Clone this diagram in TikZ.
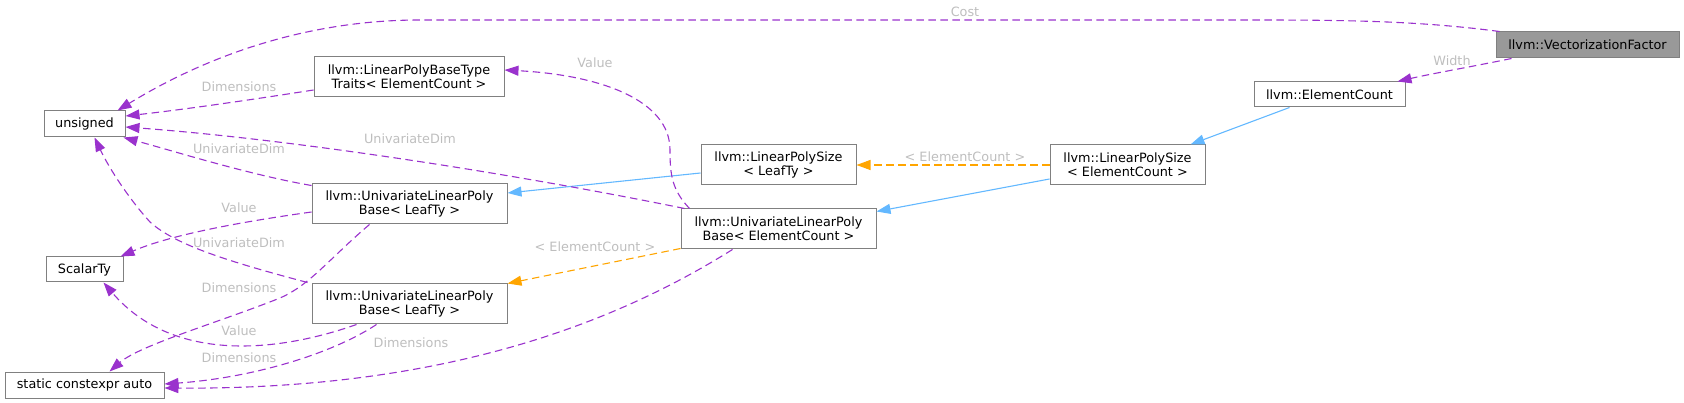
\documentclass[tikz,border=0pt]{standalone}
\usepackage{fontspec}
\setmainfont{DejaVu Sans}
\usetikzlibrary{arrows.meta,calc}
\definecolor{edgepurple}{HTML}{9A32CD}
\definecolor{edgeblue}{HTML}{63B8FF}
\definecolor{edgeorange}{HTML}{FFA500}
\definecolor{boxgray}{HTML}{808080}
\definecolor{lblgray}{HTML}{BEBEBE}
\definecolor{vffill}{HTML}{999999}
\tikzset{
  box/.style={draw=boxgray, fill=white, line width=1pt, inner sep=0pt, align=center,
    font=\fontsize{12.8}{14.3}\selectfont, text=black},
  lbl/.style={text=lblgray, inner sep=0pt, font=\fontsize{12.8}{14.3}\selectfont},
  tipstyle/.style={-{Triangle[length=14pt,width=10pt]}},
  purpleedge/.style={tipstyle, draw=edgepurple, line width=1.1pt, dash pattern=on 7.5pt off 4.5pt},
  orangeedge/.style={tipstyle, draw=edgeorange, line width=1.1pt, dash pattern=on 7.5pt off 4.5pt},
  blueedge/.style={tipstyle, draw=edgeblue, line width=1.1pt}
}
\begin{document}
\begin{tikzpicture}[x=1pt,y=-1pt]
\useasboundingbox (0,0) rectangle (1684,403);
% nodes
\node[box, minimum width=81pt, minimum height=26pt] (unsigned) at (84.5,124) {unsigned};
\node[box, minimum width=190pt, minimum height=40pt] (lpbtt) at (409,77) {llvm::LinearPolyBaseType\\Traits< ElementCount >};
\node[box, minimum width=195pt, minimum height=40pt] (ulpbup) at (409.5,204) {llvm::UnivariateLinearPoly\\Base< LeafTy >};
\node[box, minimum width=77pt, minimum height=25pt] (scalarty) at (84.5,269.5) {ScalarTy};
\node[box, minimum width=195pt, minimum height=40pt] (ulpblow) at (409.5,304) {llvm::UnivariateLinearPoly\\Base< LeafTy >};
\node[box, minimum width=159pt, minimum height=26pt] (static) at (84.5,385) {static constexpr auto};
\node[box, minimum width=155pt, minimum height=40pt] (lpsleaf) at (778.5,165) {llvm::LinearPolySize\\< LeafTy >};
\node[box, minimum width=155pt, minimum height=40pt] (lpsec) at (1127.5,165) {llvm::LinearPolySize\\< ElementCount >};
\node[box, minimum width=195pt, minimum height=40pt] (ulpbec) at (778.5,229) {llvm::UnivariateLinearPoly\\Base< ElementCount >};
\node[box, minimum width=151pt, minimum height=25pt] (ec) at (1329.5,94.5) {llvm::ElementCount};
\node[box, fill=vffill, minimum width=183pt, minimum height=26pt] (vf) at (1587.5,45) {llvm::VectorizationFactor};
% edges
\draw[purpleedge] ($(vf.north west)+(4,0)$) .. controls (1420,21) and (1350,20) .. (1250,20) -- (420,20) .. controls (300,20) and (200,60) .. ($(unsigned.north east)+(-8,0)$);
\node[lbl] (lcost) at (965,12) {Cost};
\draw[purpleedge] ($(vf.south west)+(16,0)$) .. controls (1470,67) and (1430,74) .. ($(ec.north east)+(-8,0)$);
\node[lbl] (lwidth) at (1452,61) {Width};
\draw[blueedge] ($(ec.south west)+(36,0)$) -- ($(lpsec.north east)+(-15,0)$);
\draw[orangeedge] (lpsec.west) -- (lpsleaf.east);
\node[lbl] (lec1) at (965,157) {< ElementCount >};
\draw[blueedge] ($(lpsec.west)+(0,14)$) -- ($(ulpbec.north east)+(0,3)$);
\draw[blueedge] ($(lpsleaf.west)+(0,8)$) -- ($(ulpbup.east)+(0,-11)$);
\draw[purpleedge] ($(ulpbec.north west)+(9,0)$) .. controls (672,190) and (670,175) .. (670,150) .. controls (670,100) and (600,75) .. ($(lpbtt.east)+(0,-7)$);
\node[lbl] (lvalue1) at (595,63) {Value};
\draw[purpleedge] ($(ulpbec.north west)+(4,0)$) .. controls (520,175) and (300,140) .. ($(unsigned.east)+(0,3)$);
\node[lbl] (luni1) at (410,139) {UnivariateDim};
\draw[purpleedge] ($(ulpbup.north west)+(0,2)$) .. controls (250,175) and (170,150) .. ($(unsigned.south east)+(-2,0)$);
\node[lbl] (luni2) at (239,149) {UnivariateDim};
\draw[purpleedge] ($(lpbtt.west)+(0,13)$) .. controls (250,100) and (180,110) .. ($(unsigned.east)+(0,-8)$);
\node[lbl] (ldim1) at (239,87) {Dimensions};
\draw[purpleedge] ($(ulpbup.west)+(0,8)$) .. controls (240,222) and (170,235) .. ($(scalarty.north east)+(-3,0)$);
\node[lbl] (lvalue2) at (239,208) {Value};
\draw[purpleedge] ($(ulpblow.north west)+(-4,-1)$) .. controls (230,262) and (175,245) .. (150,222) .. controls (130,200) and (110,170) .. ($(unsigned.south)+(10,0)$);
\node[lbl] (luni3) at (239,243) {UnivariateDim};
\draw[purpleedge] ($(ulpbup.south west)+(58,0)$) .. controls (330,258) and (310,285) .. (280,298) .. controls (220,322) and (140,345) .. ($(static.north)+(25,0)$);
\node[lbl] (ldim2) at (239,288) {Dimensions};
\draw[purpleedge] ($(ulpblow.south west)+(45,0)$) .. controls (270,355) and (170,360) .. ($(scalarty.south)+(19,0)$);
\node[lbl] (lvalue3) at (239,331) {Value};
\draw[purpleedge] ($(ulpblow.south west)+(65,0)$) .. controls (330,355) and (250,378) .. ($(static.east)+(0,-1)$);
\node[lbl] (ldim3) at (239,358) {Dimensions};
\draw[purpleedge] ($(ulpbec.south west)+(52,0)$) .. controls (620,320) and (450,390) .. ($(static.east)+(0,3)$);
\node[lbl] (ldim4) at (411,343) {Dimensions};
\draw[orangeedge] ($(ulpbec.south west)+(0,-1)$) -- (ulpblow.north east);
\node[lbl] (lec2) at (595,247) {< ElementCount >};
\end{tikzpicture}
\end{document}
